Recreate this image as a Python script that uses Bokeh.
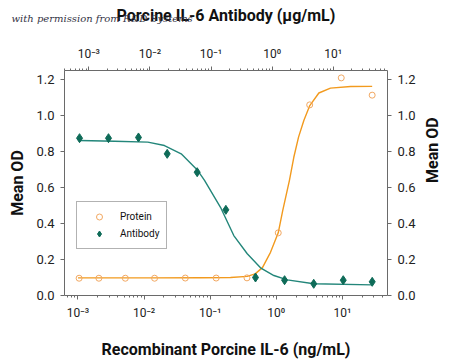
import math
from bokeh.plotting import figure
from bokeh.models import (Range1d, LogScale, LogAxis, LinearAxis, FixedTicker,
                          CustomJSTickFormatter, Legend, LegendItem, Title)
from bokeh.embed import file_html
from bokeh.resources import INLINE

# ---- data ----
protein_x = [0.00104, 0.00207, 0.0052, 0.0144, 0.042, 0.123, 0.36, 1.07, 3.2, 9.6, 28.2]
protein_y = [0.096, 0.096, 0.096, 0.096, 0.097, 0.097, 0.098, 0.348, 1.059, 1.209, 1.113]

antibody_x = [0.000705, 0.0021, 0.0065, 0.0192, 0.0594, 0.175, 0.535, 1.6, 4.8, 14.6, 43.5]
antibody_y = [0.874, 0.874, 0.878, 0.787, 0.685, 0.476, 0.100, 0.085, 0.065, 0.085, 0.076]

protein_fit_x = [0.001, 0.0125, 0.0713, 0.203, 0.363, 0.479, 0.617, 0.817, 1.07, 1.25,
                 1.58, 1.84, 2.17, 2.61, 3.21, 4.4, 6.6, 13.3, 28.2]
protein_fit_y = [0.098, 0.098, 0.099, 0.100, 0.106, 0.12, 0.155, 0.24, 0.348, 0.472,
                 0.64, 0.768, 0.88, 0.972, 1.055, 1.125, 1.152, 1.161, 1.162]

antibody_fit_x = [0.000705, 0.00264, 0.00925, 0.0173, 0.0325, 0.0608, 0.0783, 0.143,
                  0.236, 0.392, 0.646, 1.07, 1.77, 4.81, 43.5]
antibody_fit_y = [0.861, 0.857, 0.852, 0.833, 0.787, 0.694, 0.639, 0.49,
                  0.333, 0.232, 0.154, 0.111, 0.087, 0.065, 0.059]

major_ticks = [0.001, 0.01, 0.1, 1, 10]
y_ticks = [0.0, 0.2, 0.4, 0.6, 0.8, 1.0, 1.2]

x_title = "Recombinant Porcine IL-6 (ng/mL)"
top_title = "Porcine IL-6 Antibody (\u00b5g/mL)"
y_title = "Mean OD"
watermark = "with permission from R&D Systems"

FONT = "Roboto"
ORANGE_LINE = "#F29A1E"
ORANGE_PT = "#F2A862"
TEAL_LINE = "#23867A"
TEAL_PT = "#0E6B58"
AXIS = "#6a6a6a"

minor = []
for k in range(-4, 2):
    for m in range(2, 10):
        minor.append(m * 10.0 ** k)

FW, FH = 323, 225
BL, BR, BT, BB = 64, 62, 70, 65

p = figure(frame_width=FW, frame_height=FH, x_axis_type="log",
           x_range=Range1d(6.25e-4, 48.1), y_range=Range1d(0, 1.25),
           output_backend="svg", toolbar_location=None,
           min_border_left=BL, min_border_right=BR, min_border_top=BT,
           min_border_bottom=BB, outline_line_color=None)
p.grid.visible = False
p.background_fill_color = "white"

p.extra_x_ranges = {"top": Range1d(4.0e-4, 77.4)}
p.extra_x_scales = {"top": LogScale()}

bottom_axis = p.below[0]
left_axis = p.left[0]
top_axis = LogAxis(x_range_name="top")
p.add_layout(top_axis, "above")
right_axis = LinearAxis()
p.add_layout(right_axis, "right")

fmt = CustomJSTickFormatter(code="""
const sup = {"-": "\\u207b", "0": "\\u2070", "1": "\\u00b9", "2": "\\u00b2", "3": "\\u00b3"};
const e = Math.round(Math.log10(tick));
return "10" + String(e).split("").map(c => sup[c]).join("");
""")

xaxes = [bottom_axis, top_axis]
yaxes = [left_axis, right_axis]
for ax in xaxes:
    ax.ticker = FixedTicker(ticks=major_ticks, minor_ticks=minor)
    ax.formatter = fmt
    ax.minor_tick_out = 2
    ax.minor_tick_in = 0
    ax.minor_tick_line_color = AXIS
    ax.major_label_text_font_size = "12px"
    ax.axis_label_standoff = 19
for ax in yaxes:
    ax.ticker = FixedTicker(ticks=y_ticks)
    ax.minor_tick_line_color = None
    ax.formatter = CustomJSTickFormatter(code="return tick.toFixed(1);")
    ax.major_label_text_font_size = "13px"

for ax in xaxes + yaxes:
    ax.axis_line_color = AXIS
    ax.major_tick_line_color = AXIS
    ax.major_tick_out = 4
    ax.major_tick_in = 0
    ax.major_label_text_font = FONT
    ax.major_label_text_color = "#222222"
    ax.major_label_standoff = 6
    ax.axis_label_text_font = FONT
    ax.axis_label_text_font_size = "16px"
    ax.axis_label_text_font_style = "bold"
    ax.axis_label_text_color = "#111111"

bottom_axis.axis_label_standoff = 17
left_axis.axis_label_standoff = 6
right_axis.axis_label_standoff = 14

bottom_axis.axis_label = x_title
top_axis.axis_label = top_title
left_axis.axis_label = y_title
right_axis.axis_label = y_title
try:
    right_axis.axis_label_orientation = math.pi / 2
except Exception:
    pass

# fitted curves
p.line(protein_fit_x, protein_fit_y, line_color=ORANGE_LINE, line_width=1.4)
p.line(antibody_fit_x, antibody_fit_y, line_color=TEAL_LINE, line_width=1.4,
       x_range_name="top")

r_prot = p.scatter(protein_x, protein_y, marker="circle", size=6,
                   fill_color="white", fill_alpha=0.0, line_color=ORANGE_PT, line_width=1)
r_ab = p.scatter(antibody_x, antibody_y, marker="diamond", size=9,
                 fill_color=TEAL_PT, line_color=TEAL_PT, x_range_name="top")

legend = Legend(items=[LegendItem(label="Protein", renderers=[r_prot]),
                       LegendItem(label="Antibody", renderers=[r_ab])],
                location=(12, 46), orientation="vertical",
                padding=7, spacing=2, glyph_height=15, glyph_width=30,
                label_standoff=6, margin=0,
                border_line_color="#666666", border_line_width=1,
                background_fill_color="white", background_fill_alpha=1.0,
                label_text_font=FONT, label_text_font_size="10px",
                label_text_color="#111111", label_height=15)
p.add_layout(legend)

wm = Title(text="\n" + watermark, align="left", offset=-53, vertical_align="bottom",
           text_font="DejaVu Serif", text_font_style="italic", text_font_size="10px",
           text_color="#333344")
try:
    wm.standoff = -42
except Exception:
    wm.standoff = 0
p.add_layout(wm, "above")

open("out.html", "w").write(file_html(p, INLINE))
